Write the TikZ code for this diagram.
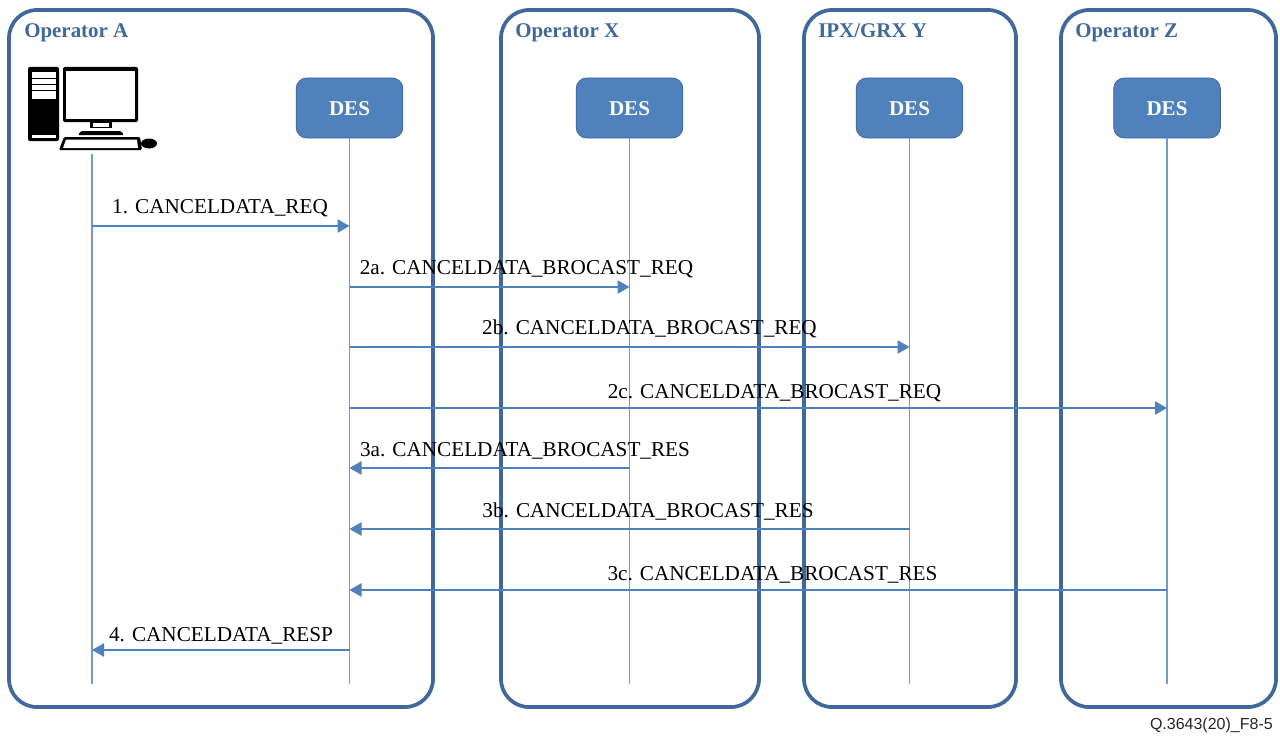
\documentclass[tikz,border=0pt]{standalone}
\usepackage{fontspec}
\setmainfont{Liberation Serif}
\newfontfamily\tagfont{Liberation Sans}
\definecolor{frameblue}{HTML}{41689A}
\definecolor{desblue}{HTML}{4F81BD}
\definecolor{lineblue}{HTML}{6F9BD1}
\tikzset{
  opbox/.style={draw=frameblue,line width=2.8pt,rounded corners=21pt},
  optitle/.style={anchor=base west,text=frameblue,inner sep=0pt,font=\fontsize{15.7}{18}\selectfont\bfseries},
  des/.style={draw=frameblue,fill=desblue,text=white,rounded corners=8pt,minimum width=80pt,minimum height=45pt,inner sep=0pt,line width=0.6pt,text height=10.5pt,text depth=0pt,font=\fontsize{15.8}{17}\selectfont\bfseries},
  life/.style={draw=lineblue,line width=1.1pt},
  msg/.style={draw=desblue,line width=1pt,-{Triangle[length=9pt,width=10pt]}},
  msglabel/.style={anchor=base,inner sep=0pt,font=\fontsize{15.9}{18}\selectfont}
}
\usetikzlibrary{arrows.meta}
\begin{document}
\begin{tikzpicture}[x=0.75pt,y=-0.75pt]
     \useasboundingbox (0,0) rectangle (1280,735);
     % operator frames
     \draw[opbox] (9,10) rectangle (433,707);
     \draw[opbox] (501,10) rectangle (759,707);
     \draw[opbox] (804,10) rectangle (1016,707);
     \draw[opbox] (1061,10) rectangle (1276,707);
     \node[optitle] (titleA) at (24,38) {Operator A};
     \node[optitle] (titleX) at (515,38) {Operator X};
     \node[optitle] (titleY) at (818,38) {IPX/GRX Y};
     \node[optitle] (titleZ) at (1075,38) {Operator Z};
     % computer
     \fill[black,rounded corners=1.5pt] (28,67) rectangle (59,141);
     \fill[white] (32,72) rectangle (56,99);
     \draw[black,line width=0.5pt] (32,78) -- (56,78) (32,84) -- (56,84) (32,90) -- (56,90);
     \fill[white] (32,135) rectangle (56,138);
     \fill[black,rounded corners=1.5pt] (63,67) rectangle (138,122);
     \fill[white] (66,71) rectangle (135,119);
     \fill[black] (90,122) rectangle (112,128);
     \fill[white] (93,123) rectangle (109,127);
     \fill[black,rounded corners=1pt] (78,135) -- (81,131) -- (121,131) -- (124,135) -- cycle;
     \fill[black,rounded corners=1pt] (64,137) -- (59,150) -- (142,150) -- (140,137) -- cycle;
     \fill[white] (66,139.5) -- (63,148) -- (138,148) -- (137,139.5) -- cycle;
     \fill[black] (149,143.5) ellipse (8 and 5);
     % DES nodes
     \node[des] (desA) at (349.5,108) {DES};
     \node[des] (desX) at (629.5,108) {DES};
     \node[des] (desY) at (909.5,108) {DES};
     \node[des] (desZ) at (1167,108) {DES};
     \coordinate (pc) at (92,154);
     \coordinate (endP) at (92,684);
     \coordinate (endA) at (349.5,684);
     \coordinate (endX) at (629.5,684);
     \coordinate (endY) at (909.5,684);
     \coordinate (endZ) at (1167,684);
     \draw[life] (pc) -- (endP);
     \foreach \n in {A,X,Y,Z}
       \draw[life] (des\n) -- (end\n);
     % message ends on the lifelines
     \foreach \n/\x in {P/92,A/349.5,X/629.5,Y/909.5,Z/1167}
       \foreach \m/\y in {1/226,2/287,3/347,4/408,5/468,6/529,7/590,8/650}
         \coordinate (\n\m) at (\x,\y);
     \draw[msg] (P1) -- (A1);
     \draw[msg] (A2) -- (X2);
     \draw[msg] (A3) -- (Y3);
     \draw[msg] (A4) -- (Z4);
     \draw[msg] (X5) -- (A5);
     \draw[msg] (Y6) -- (A6);
     \draw[msg] (Z7) -- (A7);
     \draw[msg] (A8) -- (P8);
     \node[msglabel] (m1) at (220,213) {1. CANCELDATA\_REQ};
     \node[msglabel] (m2a) at (526.5,274) {2a. CANCELDATA\_BROCAST\_REQ};
     \node[msglabel] (m2b) at (649.5,334) {2b. CANCELDATA\_BROCAST\_REQ};
     \node[msglabel] (m2c) at (774.5,398) {2c. CANCELDATA\_BROCAST\_REQ};
     \node[msglabel] (m3a) at (525,456) {3a. CANCELDATA\_BROCAST\_RES};
     \node[msglabel] (m3b) at (648,517) {3b. CANCELDATA\_BROCAST\_RES};
     \node[msglabel] (m3c) at (772.5,580) {3c. CANCELDATA\_BROCAST\_RES};
     \node[msglabel] (m4) at (221,641) {4. CANCELDATA\_RESP};
     \node[anchor=east,inner sep=0pt,text=black!85,font=\tagfont\fontsize{12}{14}\selectfont] (figtag) at (1273,725) {Q.3643(20)\_F8-5};
    \end{tikzpicture}
\end{document}
